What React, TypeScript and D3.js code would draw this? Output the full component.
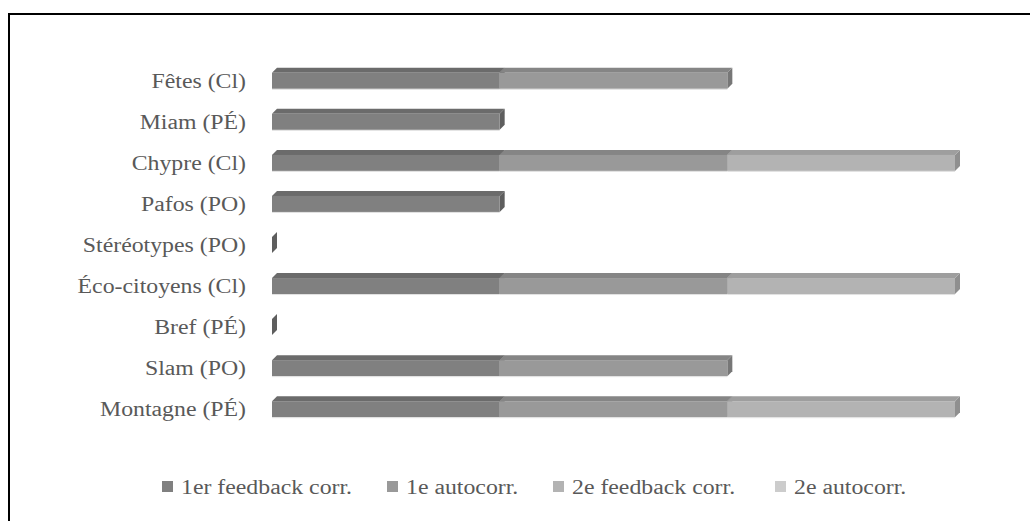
import React, { useEffect, useRef } from 'react';
import * as d3 from 'd3';

const categories = [
  'Fêtes (Cl)',
  'Miam (PÉ)',
  'Chypre (Cl)',
  'Pafos (PO)',
  'Stéréotypes (PO)',
  'Éco-citoyens (Cl)',
  'Bref (PÉ)',
  'Slam (PO)',
  'Montagne (PÉ)',
];

const seriesNames = ['1er feedback corr.', '1e autocorr.', '2e feedback corr.', '2e autocorr.'];

const firstFeedback = [1, 1, 1, 1, 0, 1, 0, 1, 1];
const firstAutocorr = [1, 0, 1, 0, 0, 1, 0, 1, 1];
const secondFeedback = [0, 0, 1, 0, 0, 1, 0, 0, 1];
const secondAutocorr = [0, 0, 0, 0, 0, 0, 0, 0, 0];

const frontColors = ['#808080', '#999999', '#b3b3b3', '#cccccc'];
const topColors = ['#6b6b6b', '#858585', '#9e9e9e', '#b8b8b8'];
const sideColors = ['#5e5e5e', '#777777', '#8f8f8f', '#a8a8a8'];

const W = 1030;
const H = 521;
const FONT = "'Liberation Serif', 'Times New Roman', serif";
const FS = 20;
const STRETCH = 1.19; // text in the source is widened horizontally

const App: React.FC = () => {
  const svgRef = useRef<SVGSVGElement | null>(null);

  useEffect(() => {
    const svgEl = svgRef.current;
    if (!svgEl) return;
    const svg = d3.select(svgEl);
    svg.selectAll('*').remove();

    // outer frame (right and bottom edges fall outside the window)
    svg.append('rect')
      .attr('x', 9).attr('y', 14)
      .attr('width', W + 20).attr('height', H + 20)
      .attr('fill', 'white').attr('stroke', '#000').attr('stroke-width', 2);

    const rows = categories.map((c, i) => ({
      cat: c,
      s0: firstFeedback[i],
      s1: firstAutocorr[i],
      s2: secondFeedback[i],
      s3: secondAutocorr[i],
    }));
    const keys = ['s0', 's1', 's2', 's3'];
    const stacked = d3.stack<any>().keys(keys)(rows);

    const x = d3.scaleLinear().domain([0, 3]).range([272, 955]);
    const y = d3.scaleBand().domain(categories).range([60.5, 429.5]).paddingInner(0.61).paddingOuter(0.3);
    const d = 5;
    const h = y.bandwidth();

    const g = svg.append('g');

    rows.forEach((row, i) => {
      const yt = y(row.cat)!;
      let lastIdx = 0;
      stacked.forEach((layer, k) => {
        const [a, b] = layer[i];
        if (b - a <= 0) return;
        lastIdx = k;
        const x0 = x(a);
        const x1 = x(b);
        g.append('path')
          .attr('d', `M${x1},${yt} L${x1 + d},${yt - d} L${x1 + d},${yt + h - d} L${x1},${yt + h} Z`)
          .attr('fill', sideColors[k]);
        g.append('path')
          .attr('d', `M${x0},${yt} L${x0 + d},${yt - d} L${x1 + d},${yt - d} L${x1},${yt} Z`)
          .attr('fill', topColors[k]);
        g.append('rect')
          .attr('x', x0).attr('y', yt)
          .attr('width', x1 - x0).attr('height', h)
          .attr('fill', frontColors[k]);
        g.append('line')
          .attr('x1', x0).attr('x2', x1)
          .attr('y1', yt + h + 0.5).attr('y2', yt + h + 0.5)
          .attr('stroke', '#e0e0e0').attr('stroke-width', 1);
      });
      const total = row.s0 + row.s1 + row.s2 + row.s3;
      if (total === 0) {
        const x1 = x(0);
        g.append('path')
          .attr('d', `M${x1},${yt} L${x1 + d},${yt - d} L${x1 + d},${yt + h - d} L${x1},${yt + h} Z`)
          .attr('fill', sideColors[lastIdx]);
      }
    });

    // category labels
    g.selectAll('text.cat').data(categories).enter().append('text')
      .attr('class', 'cat')
      .attr('transform', (c) => `translate(246,${y(c)! + h / 2 + 7}) scale(${STRETCH},1)`)
      .attr('text-anchor', 'end')
      .attr('font-family', FONT)
      .attr('font-size', FS)
      .attr('fill', '#595959')
      .text((c) => c);

    // legend
    const legendX = [162, 387, 553, 775];
    const lg = svg.append('g');
    seriesNames.forEach((name, k) => {
      lg.append('rect')
        .attr('x', legendX[k]).attr('y', 481)
        .attr('width', 11).attr('height', 11)
        .attr('fill', frontColors[k]);
      lg.append('text')
        .attr('transform', `translate(${legendX[k] + 19},494) scale(${STRETCH},1)`)
        .attr('font-family', FONT)
        .attr('font-size', FS)
        .attr('fill', '#595959')
        .text(name);
    });
  }, []);

  return (
    <svg
      ref={svgRef}
      width={W}
      height={H}
      style={{ position: 'absolute', left: 0, top: 0, display: 'block', background: '#fff' }}
    />
  );
};

export default App;
